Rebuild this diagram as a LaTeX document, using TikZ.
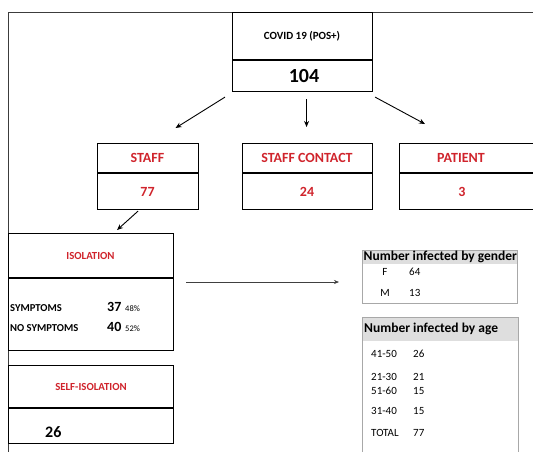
\documentclass[tikz,border=0pt]{standalone}
\usepackage{fontspec}
\setmainfont{Carlito}
\usetikzlibrary{arrows.meta}
\definecolor{redtxt}{RGB}{208,36,44}
\definecolor{tblline}{RGB}{168,168,168}
\definecolor{tblhead}{RGB}{222,222,222}
\definecolor{framec}{RGB}{60,60,60}
\begin{document}
\begin{tikzpicture}[x=1pt,y=-1pt,
  box/.style={draw=black, line width=1.1pt, anchor=north west, inner sep=0pt},
  divider/.style={draw=black, line width=1.1pt},
  arr/.style={-{Stealth[length=6pt,width=5pt]}, line width=0.9pt},
  thinarr/.style={-{Stealth[length=5pt,width=4pt]}, line width=0.6pt, draw=black!75},
  redbig/.style={text=redtxt, font=\bfseries\fontsize{14}{16}\selectfont},
  redsmall/.style={text=redtxt, font=\bfseries\fontsize{10.8}{12}\selectfont},
  blk/.style={font=\bfseries\fontsize{10.6}{12}\selectfont},
  tbl/.style={draw=tblline, line width=0.8pt, anchor=north west, inner sep=0pt},
  tblhd/.style={anchor=west, font=\bfseries\fontsize{13.5}{15}\selectfont, inner sep=0pt},
  tblrow/.style={anchor=west, font=\fontsize{11}{13}\selectfont, inner sep=0pt}
]
\useasboundingbox (0,0) rectangle (533,451);
\clip (0,0) rectangle (533,451);
\fill[white] (0,0) rectangle (533,451);

% outer frame
\draw[framec, line width=0.8pt] (540,12) -- (8,12) -- (8,460);

% COVID box
\node[box, minimum width=140pt, minimum height=79pt] (covid) at (232,12) {};
\draw[divider] (232,60) -- (372,60);
\node[font=\bfseries\fontsize{11}{13}\selectfont] (covidt) at (302,36) {COVID 19 (POS+)};
\node[font=\bfseries\fontsize{20}{22}\selectfont] (covidn) at (304,76) {104};

% second level boxes
\node[box, minimum width=101pt, minimum height=66pt] (staff) at (97,143) {};
\draw[divider] (97,173) -- (198,173);
\node[redbig] (stafft) at (147.5,158) {STAFF};
\node[redbig] (staffn) at (147.5,192) {77};

\node[box, minimum width=130pt, minimum height=66pt] (contact) at (242,143) {};
\draw[divider] (242,173) -- (372,173);
\node[redbig] (contactt) at (307,158) {STAFF CONTACT};
\node[redbig] (contactn) at (307,192) {24};

\node[box, minimum width=145pt, minimum height=66pt] (patient) at (399,143) {};
\draw[divider] (399,173) -- (545,173);
\node[redbig] (patientt) at (461,158) {PATIENT};
\node[redbig] (patientn) at (462,192) {3};

% arrows from COVID
\draw[arr] ([shift={(-7,5)}]covid.south west) -- ([shift={(27.5,-15)}]staff.north);
\draw[arr] ([shift={(4,7)}]covid.south) -- ([shift={(-1,-16)}]contact.north);
\draw[arr] ([shift={(2,5)}]covid.south east) -- ([shift={(26,-19)}]patient.north west);

% isolation box
\node[box, minimum width=165pt, minimum height=117pt] (iso) at (8,233) {};
\draw[divider] (8,278) -- (173,278);
\node[redsmall] (isot) at (90.5,256) {ISOLATION};
\node[blk, anchor=west, inner sep=0pt] (symp) at (10,308) {SYMPTOMS};
\node[blk, anchor=west, inner sep=0pt] (nosymp) at (10,328) {NO SYMPTOMS};
\node[font=\bfseries\fontsize{14}{16}\selectfont, anchor=west, inner sep=0pt] (sympn) at (107,306.5) {37};
\node[font=\bfseries\fontsize{14}{16}\selectfont, anchor=west, inner sep=0pt] (nosympn) at (107,326.5) {40};
\node[font=\fontsize{8.5}{10}\selectfont, anchor=west, inner sep=0pt] (symppc) at (125,308.5) {48\%};
\node[font=\fontsize{8.5}{10}\selectfont, anchor=west, inner sep=0pt] (nosymppc) at (125,328.5) {52\%};

\draw[arr] ([shift={(-10,1)}]staff.south) -- ([shift={(26,-3)}]iso.north);

% self-isolation box
\node[box, minimum width=165pt, minimum height=78pt] (self) at (8,365) {};
\draw[divider] (8,408) -- (173,408);
\node[redsmall] (selft) at (91,387) {SELF-ISOLATION};
\node[font=\bfseries\fontsize{16}{18}\selectfont, anchor=west, inner sep=0pt] (selfn) at (45,432) {26};

% horizontal arrow
\coordinate (hs) at (186,282);
\coordinate (he) at (339,282);
\draw[thinarr] (hs) -- (he);

% gender table
\fill[tblhead] (362,250) rectangle (517,264);
\node[tbl, minimum width=155pt, minimum height=53pt] (gender) at (362,250) {};
\node[tblhd] (gendert) at (363.5,257) {Number infected by gender};
\node[tblrow, anchor=center] (gf) at (385,272) {F};
\node[tblrow] (gfn) at (409,272) {64};
\node[tblrow, anchor=center] (gm) at (385,293) {M};
\node[tblrow] (gmn) at (409,293) {13};

% age table
\fill[tblhead] (362,317) rectangle (518,341);
\node[tbl, minimum width=156pt, minimum height=160pt] (age) at (362,317) {};
\node[tblhd] (aget) at (364,329) {Number infected by age};
\node[tblrow] (a1) at (371,354) {41-50};
\node[tblrow] (a1n) at (413,354) {26};
\node[tblrow] (a2) at (371,377) {21-30};
\node[tblrow] (a2n) at (413,377) {21};
\node[tblrow] (a3) at (371,391) {51-60};
\node[tblrow] (a3n) at (413,391) {15};
\node[tblrow] (a4) at (371,411) {31-40};
\node[tblrow] (a4n) at (413,411) {15};
\node[tblrow] (a5) at (371,433) {TOTAL};
\node[tblrow] (a5n) at (413,433) {77};
\end{tikzpicture}
\end{document}
